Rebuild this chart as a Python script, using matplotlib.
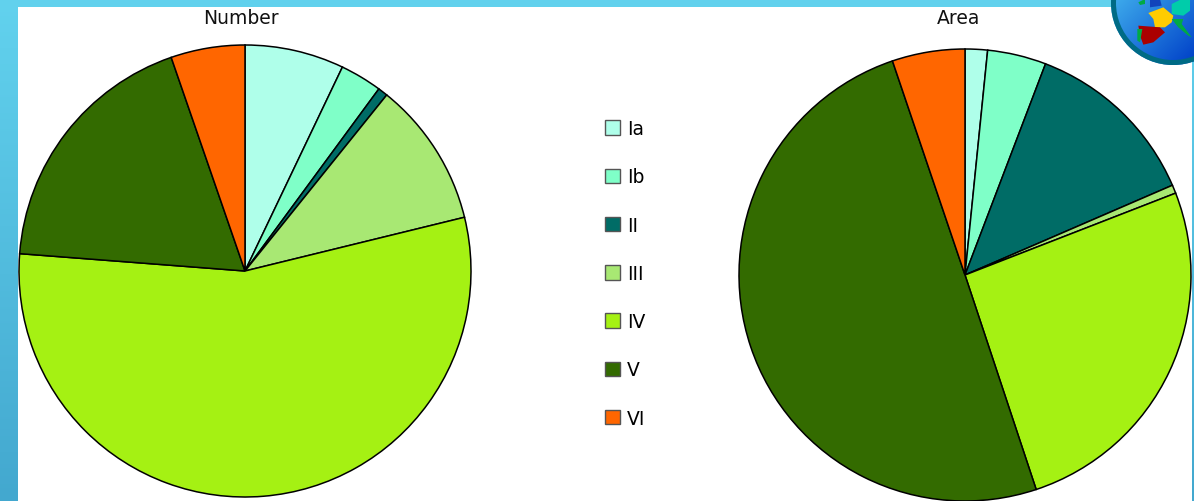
import numpy as np
import matplotlib
matplotlib.use('Agg')
import matplotlib.pyplot as plt
from matplotlib.patches import Circle, Polygon, Patch

# IUCN categories, share in percent
categories = ['Ia', 'Ib', 'II', 'III', 'IV', 'V', 'VI']
number_share = [7.1, 3.0, 0.7, 10.4, 55.1, 18.5, 5.3]
area_share = [1.6, 4.2, 12.7, 0.6, 25.8, 49.9, 5.2]
colors = ['#AFFFEA', '#7FFFC8', '#006C66', '#A8E873', '#A5F113', '#336B00', '#FF6600']

W, H = 1194, 502
fig = plt.figure(figsize=(W / 100, H / 100), dpi=100)

# background frame, pixel coordinates
bg = fig.add_axes([0, 0, 1, 1])
bg.set_xlim(0, W)
bg.set_ylim(H, 0)
bg.axis('off')
top_col = np.array([0x62, 0xD2, 0xEE]) / 255
bot_col = np.array([0x43, 0xA8, 0xCF]) / 255
t = np.linspace(0, 1, 256)[:, None, None]
grad = top_col[None, None, :] * (1 - t) + bot_col[None, None, :] * t
bg.imshow(grad, extent=[0, W, H, 0], aspect='auto', zorder=0)
bg.add_patch(plt.Rectangle((18, 8), 1174, H, color='white', lw=0, zorder=1))

# globe in the corner
gx, gy, gr = 1173, 4, 62
yy, xx = np.mgrid[-1:1:128j, -1:1:128j]
glow = np.clip((xx + yy + 1.3) / 2.6, 0, 1)[:, :, None]
light = np.array([0x45, 0xB8, 0xF0]) / 255
dark = np.array([0x00, 0x40, 0xC8]) / 255
img = bg.imshow(light * (1 - glow) + dark * glow, extent=[gx - gr, gx + gr, gy + gr, gy - gr],
                aspect='auto', zorder=2)
img.set_clip_path(Circle((gx, gy), gr, transform=bg.transData))
bg.set_xlim(0, W)
bg.set_ylim(H, 0)
shapes = [
    ('#FFCC00', [(295, 42), (340, 25), (370, 50), (365, 70), (345, 85), (315, 85), (310, 60)]),
    ('#AA0000', [(265, 80), (330, 85), (345, 100), (310, 130), (280, 137), (270, 110)]),
    ('#00AA44', [(262, 90), (277, 90), (270, 130), (262, 125)]),
    ('#00AA44', [(365, 60), (400, 60), (395, 75), (425, 115), (415, 110), (385, 85)]),
    ('#1144BB', [(300, 0), (330, 0), (335, 20), (300, 25)]),
    ('#00AA44', [(265, 10), (285, 0), (285, 15), (270, 18)]),
    ('#00CCAA', [(365, 15), (395, 0), (420, 0), (420, 35), (400, 50), (365, 45)]),
]
for c, pts in shapes:
    bg.add_patch(Polygon([(1050 + x / 3, y / 3) for x, y in pts], color=c, lw=0, zorder=3))
bg.add_patch(Circle((gx, gy), gr - 2.5, fill=False, ec='#006B85', lw=3.6, zorder=4))


def draw_pie(cx, cy, r, values, title, title_x):
    ax = fig.add_axes([(cx - r) / W, 1 - (cy + r) / H, 2 * r / W, 2 * r / H])
    wedges, _ = ax.pie(values, colors=colors, startangle=90, counterclock=False, radius=1,
                       wedgeprops={'edgecolor': 'black', 'linewidth': 1.1, 'clip_on': False})
    ax.set_xlim(-1, 1)
    ax.set_ylim(-1, 1)
    ax.text((title_x - cx) / r, 1 + (cy - r - 18) / r, title, ha='center', va='center',
            fontsize=13.5, color='#111111')
    return wedges


wedges = draw_pie(245, 272, 226, number_share, 'Number', 241)
draw_pie(965, 276, 226, area_share, 'Area', 958.5)

handles = [Patch(facecolor=c, edgecolor='#555555', linewidth=1) for c in colors]
fig.legend(handles, categories, loc='upper left', bbox_to_anchor=(598 / W, 1 - 113 / H),
           frameon=False, fontsize=13.5, handlelength=0.8, handleheight=0.8, handletextpad=0.35,
           labelspacing=1.56, borderpad=0.38, borderaxespad=0)

fig.savefig('out.png', dpi=100)
